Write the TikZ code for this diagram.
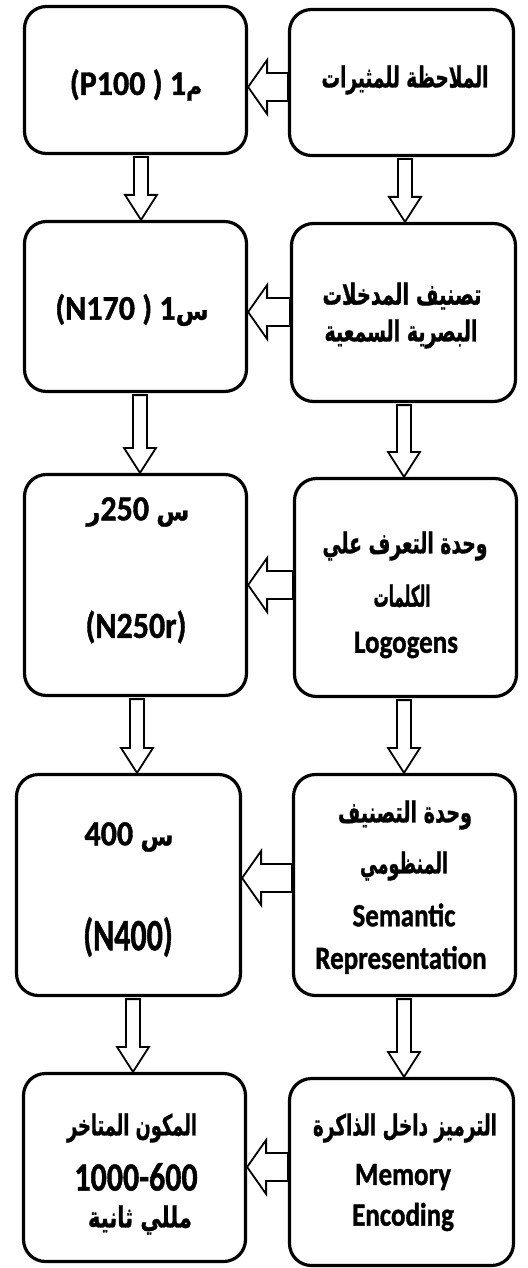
\documentclass[tikz,border=0pt]{standalone}
\usepackage{fontspec}
\usepackage{graphicx}
\setmainfont{Carlito}[BoldFeatures={FakeBold=1.2}]
\newfontfamily\ar[Script=Arabic,BoldFeatures={FakeBold=1.2}]{DejaVu Sans}
\TeXXeTstate=1
\usetikzlibrary{calc}
\tikzset{
  box/.style={draw, line width=3.2pt, rounded corners=22pt, inner sep=0pt},
  blk/.style={draw, line width=1.8pt, line join=miter},
  lat/.style={inner sep=0pt, font=\bfseries\fontsize{27}{30}\selectfont},
  num/.style={inner sep=0pt, font=\bfseries\fontsize{32}{36}\selectfont},
  arb/.style={inner sep=0pt},
}
% Arabic line: target width, text (text given with \beginR ... \endR)
\newcommand\AR[2]{\resizebox{#1pt}{22pt}{\ar\bfseries\fontsize{20}{24}\selectfont #2}}
% vertical stretch of a text
\newcommand\SY[2]{\scalebox{1}[#1]{#2}}
\newcommand\vblk[3]{%
  \coordinate (vx) at (#3,0);
  \coordinate (vs) at (#1.south -| vx);
  \coordinate (vt) at (#2.north -| vx);
  \draw[blk] ($(vs)+(-7,2)$) -- ($(vt)+(-7,-25)$) -- ($(vt)+(-16,-25)$) -- (vt)
    -- ($(vt)+(16,-25)$) -- ($(vt)+(7,-25)$) -- ($(vs)+(7,2)$) -- cycle;}
\newcommand\hblk[3]{%
  \coordinate (hy) at (0,#3);
  \coordinate (hs) at (#1.west |- hy);
  \coordinate (ht) at (#2.east |- hy);
  \draw[blk] (ht) -- ($(ht)+(19,-27)$) -- ($(ht)+(19,-14)$) -- ($(hs)+(0,-14)$)
    -- ($(hs)+(0,14)$) -- ($(ht)+(19,14)$) -- ($(ht)+(19,27)$) -- cycle;}
\begin{document}
\begin{tikzpicture}[x=1pt,y=-1pt]
\useasboundingbox (0,0) rectangle (527,1268);
% boxes
\node[box, minimum width=222, minimum height=147] (L1) at (135.5,80) {};
\node[box, minimum width=224, minimum height=146] (R1) at (401.5,82.5) {};
\node[box, minimum width=222, minimum height=170] (L2) at (135.5,306.5) {};
\node[box, minimum width=224, minimum height=178] (R2) at (403.5,312.5) {};
\node[box, minimum width=222, minimum height=221] (L3) at (135.5,585) {};
\node[box, minimum width=222, minimum height=218] (R3) at (405.5,587.5) {};
\node[box, minimum width=224, minimum height=221] (L4) at (128.5,885) {};
\node[box, minimum width=222, minimum height=221] (R4) at (404.5,885) {};
\node[box, minimum width=222, minimum height=188] (L5) at (134.5,1167.5) {};
\node[box, minimum width=224, minimum height=187] (R5) at (401.5,1172) {};
% texts
\node[num] (t1) at (136,85) {\SY{1.08}{(P100 ) 1{\ar\fontsize{22}{24}\selectfont م}}};
\node[arb] (t2) at (405,80) {\AR{167}{\beginR الملاحظة للمثيرات\endR}};
\node[num] (t3) at (132,310) {\SY{1.08}{(N170 ) 1{\ar\fontsize{24}{26}\selectfont س}}};
\node[arb] (t4) at (402,296) {\AR{159}{\beginR تصنيف المدخلات\endR}};
\node[arb] (t5) at (401,334) {\AR{153}{\beginR البصرية السمعية\endR}};
\node[num] (t6) at (138,512) {\SY{1.1}{{\ar\fontsize{24}{26}\selectfont ر}250 {\ar\fontsize{24}{26}\selectfont س}}};
\node[num] (t7) at (136,627) {\SY{1.15}{(N250r)}};
\node[arb] (t8) at (405,546) {\AR{165}{\beginR وحدة التعرف علي\endR}};
\node[arb] (t9) at (402,596) {\AR{57}{\beginR الكلمات\endR}};
\node[lat] (t10) at (406,645) {\SY{1.2}{Logogens}};
\node[num] (t11) at (129,837) {\SY{1.1}{400 {\ar\fontsize{24}{26}\selectfont س}}};
\node[num] (t12) at (128,937) {\SY{1.4}{(N400)}};
\node[arb] (t13) at (405,815) {\AR{134}{\beginR وحدة التصنيف\endR}};
\node[arb] (t14) at (404,866) {\AR{88}{\beginR المنظومي\endR}};
\node[lat] (t15) at (404,915) {\SY{1.2}{Semantic}};
\node[lat] (t16) at (401,960) {\SY{1.2}{Representation}};
\node[arb] (t17) at (132,1128) {\AR{130}{\beginR المكون المتاخر\endR}};
\node[num] (t18) at (136,1177) {\SY{1.25}{1000-600}};
\node[arb] (t19) at (140,1220) {\AR{104}{\beginR مللي ثانية\endR}};
\node[arb] (t20) at (405,1128) {\AR{184}{\beginR الترميز داخل الذاكرة\endR}};
\node[lat] (t21) at (403,1177) {\SY{1.2}{Memory}};
\node[lat] (t22) at (403,1217) {\SY{1.2}{Encoding}};
% horizontal arrows
\hblk{R1}{L1}{87}
\hblk{R2}{L2}{312}
\hblk{R3}{L3}{585}
\hblk{R4}{L4}{878}
\hblk{R5}{L5}{1167}
% vertical arrows
\vblk{L1}{L2}{141}
\vblk{R1}{R2}{405}
\vblk{L2}{L3}{140}
\vblk{R2}{R3}{404}
\vblk{L3}{L4}{137}
\vblk{R3}{R4}{404}
\vblk{L4}{L5}{133}
\vblk{R4}{R5}{404}
\end{tikzpicture}
\end{document}
